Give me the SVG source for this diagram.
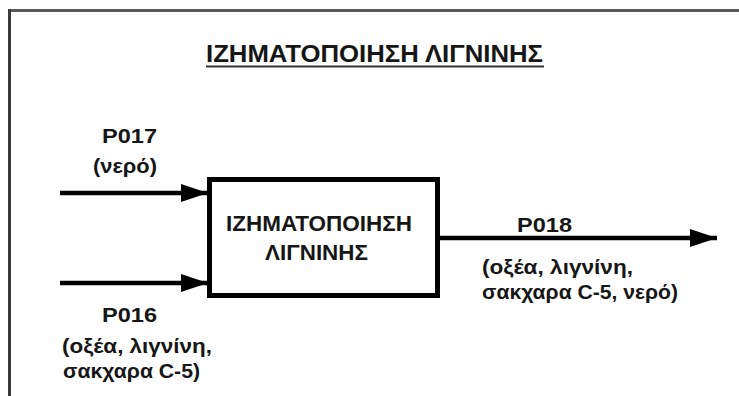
<svg xmlns="http://www.w3.org/2000/svg" width="739" height="396" viewBox="0 0 739 396">
  <defs>
    <marker id="arrow" markerWidth="27" markerHeight="18" refX="27" refY="9" orient="auto" markerUnits="userSpaceOnUse">
      <path d="M0,0 L27,9 L0,18 Z" fill="#000"/>
    </marker>
    <style>
      .lbl { font-family: "Liberation Sans", Arial, sans-serif; font-weight: bold; fill: #161616; }
      .flow { stroke: #000; stroke-width: 4.5; fill: none; }
    </style>
  </defs>
  <rect width="739" height="396" fill="#fff"/>

  <!-- frame -->
  <g id="frame">
    <line x1="8" y1="10.5" x2="739" y2="10.5" stroke="#5a5a5a" stroke-width="3"/>
    <line x1="9.5" y1="9" x2="9.5" y2="396" stroke="#3a3a3a" stroke-width="3"/>
  </g>

  <!-- heading -->
  <g id="title">
    <text x="374.5" y="62" text-anchor="middle" class="lbl" font-size="23" textLength="337" lengthAdjust="spacingAndGlyphs">ΙΖΗΜΑΤΟΠΟΙΗΣΗ ΛΙΓΝΙΝΗΣ</text>
    <line x1="206" y1="66.5" x2="544" y2="66.5" stroke="#333" stroke-width="2"/>
  </g>

  <!-- connectors -->
  <g id="connectors">
    <line class="flow" x1="60" y1="193" x2="208" y2="193" marker-end="url(#arrow)"/>
    <line class="flow" x1="60" y1="283" x2="208" y2="283" marker-end="url(#arrow)"/>
    <line class="flow" x1="438" y1="238" x2="717" y2="238" marker-end="url(#arrow)"/>
  </g>

  <!-- process block -->
  <g id="process">
    <rect x="209.5" y="179.5" width="228" height="116" fill="#fff" stroke="#000" stroke-width="5"/>
    <text x="319" y="231" text-anchor="middle" class="lbl" font-size="22" textLength="186" lengthAdjust="spacingAndGlyphs">ΙΖΗΜΑΤΟΠΟΙΗΣΗ</text>
    <text x="316.5" y="260" text-anchor="middle" class="lbl" font-size="22" textLength="103" lengthAdjust="spacingAndGlyphs">ΛΙΓΝΙΝΗΣ</text>
  </g>

  <!-- stream P017 -->
  <g id="p017">
    <text x="102" y="143" class="lbl" font-size="21" textLength="55" lengthAdjust="spacingAndGlyphs">P017</text>
    <text x="93" y="173" class="lbl" font-size="20" textLength="64" lengthAdjust="spacingAndGlyphs">(νερό)</text>
  </g>

  <!-- stream P016 -->
  <g id="p016">
    <text x="102" y="322" class="lbl" font-size="21" textLength="55" lengthAdjust="spacingAndGlyphs">P016</text>
    <text x="62" y="353" class="lbl" font-size="20" textLength="150" lengthAdjust="spacingAndGlyphs">(οξέα, λιγνίνη,</text>
    <text x="63" y="378" class="lbl" font-size="20" textLength="137" lengthAdjust="spacingAndGlyphs">σακχαρα C-5)</text>
  </g>

  <!-- stream P018 -->
  <g id="p018">
    <text x="517" y="232" class="lbl" font-size="21" textLength="55" lengthAdjust="spacingAndGlyphs">P018</text>
    <text x="482" y="274" class="lbl" font-size="20" textLength="151" lengthAdjust="spacingAndGlyphs">(οξέα, λιγνίνη,</text>
    <text x="482" y="299" class="lbl" font-size="20" textLength="196" lengthAdjust="spacingAndGlyphs">σακχαρα C-5, νερό)</text>
  </g>
</svg>
